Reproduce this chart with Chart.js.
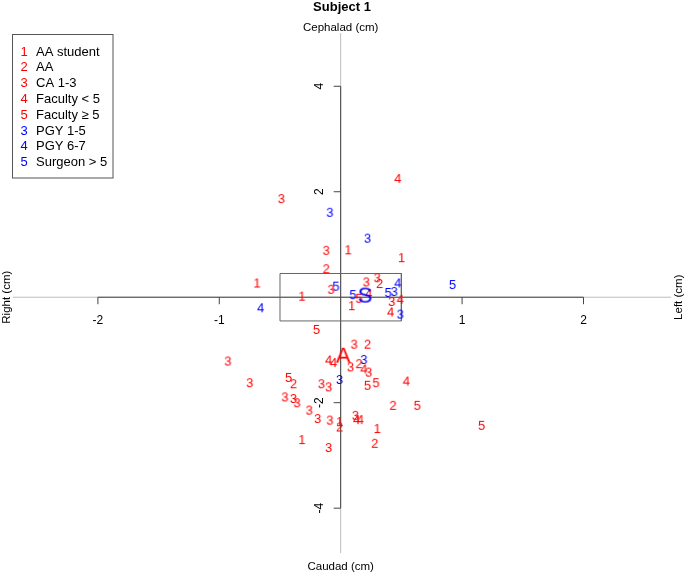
<!DOCTYPE html>
<html>
<head>
<meta charset="utf-8">
<title>Subject 1</title>
<script src="https://cdn.jsdelivr.net/npm/chart.js@4.4.1/dist/chart.umd.min.js"></script>
<style>
  body { margin: 0; background: #fff; }
  #chart-box { width: 685px; height: 575px; position: relative; }
</style>
</head>
<body>
<div id="chart-box"><canvas id="my-chart"></canvas></div>
<script>
'use strict';

// ******* DATA *******
let categories = ['AA student', 'AA', 'CA 1-3', 'Faculty < 5', 'Faculty \u2265 5', 'PGY 1-5', 'PGY 6-7', 'Surgeon > 5'];
let symbols = ['1', '2', '3', '4', '5', '3', '4', '5'];
let colors = ['#ff0000', '#ff0000', '#ff0000', '#ff0000', '#ff0000', '#0000ff', '#0000ff', '#0000ff'];

let aaStudentX = [0.06, 0.50, -0.69, -0.32, 0.09, -0.01, -0.32, 0.30];
let aaStudentY = [0.90, 0.75, 0.27, 0.02, -0.16, -2.36, -2.70, -2.49];

let aaX = [-0.12, 0.32, 0.22, 0.15, -0.39, -0.01, 0.43, 0.28];
let aaY = [0.54, 0.26, -0.89, -1.26, -1.64, -2.46, -2.05, -2.77];

let caX = [-0.49, -0.12, -0.08, 0.21, 0.30, 0.42, 0.11, 0.08, 0.23, -0.93, -0.75, -0.16, -0.10, -0.46, -0.39, -0.36, -0.26, -0.19, -0.09, 0.12, -0.10];
let caY = [1.87, 0.89, 0.15, 0.29, 0.37, -0.08, -0.89, -1.32, -1.42, -1.21, -1.62, -1.64, -1.70, -1.89, -1.92, -2.00, -2.14, -2.30, -2.33, -2.24, -2.85];

let facLowX = [0.47, 0.23, 0.49, 0.41, -0.10, -0.06, 0.19, 0.54, 0.13, 0.16];
let facLowY = [2.25, 0.07, -0.04, -0.28, -1.19, -1.24, -1.36, -1.59, -2.32, -2.32];

let facHighX = [0.15, -0.20, -0.43, 0.22, 0.29, 0.63, 1.16];
let facHighY = [-0.02, -0.61, -1.52, -1.67, -1.62, -2.05, -2.43];

let pgyLowX = [-0.09, 0.22, 0.44, 0.49, 0.19, -0.01];
let pgyLowY = [1.61, 1.12, 0.11, -0.32, -1.18, -1.56];

let pgyHighX = [-0.66, 0.47];
let pgyHighY = [-0.20, 0.27];

let surgeonX = [0.92, -0.04, 0.10, 0.39];
let surgeonY = [0.24, 0.21, 0.05, 0.09];

// mean markers
let surgeonMean = [0.20, 0.04];
let anesMean = [0.02, -1.10];

// box around surgeon spread
let boxX = [-0.5, 0.5, 0.5, -0.5, -0.5];
let boxY = [0.45, 0.45, -0.45, -0.45, 0.45];

let xTicks = [-2, -1, 1, 2];
let yTicks = [4, 2, -2, -4];

let seriesX = [aaStudentX, aaX, caX, facLowX, facHighX, pgyLowX, pgyHighX, surgeonX];
let seriesY = [aaStudentY, aaY, caY, facLowY, facHighY, pgyLowY, pgyHighY, surgeonY];

const FONT = '"Liberation Sans", Arial, sans-serif';

// ****** HELPER FUNCTIONS ******
function toPoints(xs, ys) {
  let pts = [];
  for (let i = 0; i < xs.length; i++) {
    pts.push({ x: xs[i], y: ys[i] });
  }
  return pts;
}

// text glyph used as point style, centred on the value
function makeGlyph(text, color, size) {
  let c = document.createElement('canvas');
  c.width = Math.ceil(size * 1.4);
  c.height = Math.ceil(size * 1.4);
  let g = c.getContext('2d');
  g.font = size + 'px ' + FONT;
  g.fillStyle = color;
  g.textAlign = 'center';
  g.textBaseline = 'alphabetic';
  g.fillText(text, c.width / 2, c.height / 2 + size * 0.36);
  return c;
}

// ****** DATASETS ******
let datasets = [];
for (let i = 0; i < categories.length; i++) {
  datasets.push({
    label: categories[i],
    data: toPoints(seriesX[i], seriesY[i]),
    pointStyle: makeGlyph(symbols[i], colors[i], 13),
    order: 1
  });
}
datasets.push({
  label: 'S',
  data: [{ x: surgeonMean[0], y: surgeonMean[1] }],
  pointStyle: makeGlyph('S', '#0000ff', 22),
  order: 0
});
datasets.push({
  label: 'A',
  data: [{ x: anesMean[0], y: anesMean[1] }],
  pointStyle: makeGlyph('A', '#ff0000', 22),
  order: 0
});
datasets.push({
  label: 'box',
  type: 'line',
  data: toPoints(boxX, boxY),
  showLine: true,
  borderColor: '#666',
  borderWidth: 1,
  pointRadius: 0,
  fill: false,
  order: 10
});

// ******** AXES / LABELS PLUGIN *******
let crossAxes = {
  id: 'crossAxes',
  beforeDatasetsDraw(chart) {
    let ctx = chart.ctx;
    let area = chart.chartArea;
    let xs = chart.scales.x;
    let ys = chart.scales.y;
    let x0 = xs.getPixelForValue(0);
    let y0 = ys.getPixelForValue(0);

    ctx.save();
    // light reference lines through origin
    ctx.strokeStyle = '#bdbdbd';
    ctx.lineWidth = 1;
    ctx.beginPath();
    ctx.moveTo(area.left, y0);
    ctx.lineTo(area.right, y0);
    ctx.moveTo(x0, area.top);
    ctx.lineTo(x0, area.bottom);
    ctx.stroke();

    // axis segments
    ctx.strokeStyle = '#444';
    ctx.beginPath();
    ctx.moveTo(xs.getPixelForValue(xTicks[0]), y0);
    ctx.lineTo(xs.getPixelForValue(xTicks[xTicks.length - 1]), y0);
    ctx.moveTo(x0, ys.getPixelForValue(yTicks[0]));
    ctx.lineTo(x0, ys.getPixelForValue(yTicks[yTicks.length - 1]));
    xTicks.forEach(function (t) {
      let px = xs.getPixelForValue(t);
      ctx.moveTo(px, y0);
      ctx.lineTo(px, y0 + 7);
    });
    yTicks.forEach(function (t) {
      let py = ys.getPixelForValue(t);
      ctx.moveTo(x0, py);
      ctx.lineTo(x0 - 7, py);
    });
    ctx.stroke();

    ctx.fillStyle = '#000';
    ctx.font = '12px ' + FONT;
    ctx.textAlign = 'center';
    ctx.textBaseline = 'middle';
    xTicks.forEach(function (t) {
      ctx.fillText(String(t), xs.getPixelForValue(t), y0 + 23);
    });
    yTicks.forEach(function (t) {
      ctx.save();
      ctx.translate(x0 - 21, ys.getPixelForValue(t));
      ctx.rotate(-Math.PI / 2);
      ctx.fillText(String(t), 0, 0);
      ctx.restore();
    });
    ctx.restore();
  },
  afterDraw(chart) {
    let ctx = chart.ctx;
    let xs = chart.scales.x;
    let ys = chart.scales.y;
    let x0 = xs.getPixelForValue(0);
    let y0 = ys.getPixelForValue(0);

    ctx.save();
    ctx.fillStyle = '#000';
    ctx.textAlign = 'center';
    ctx.textBaseline = 'middle';

    ctx.font = 'bold 13px ' + FONT;
    ctx.fillText('Subject 1', 342, 7);

    ctx.font = '11.5px ' + FONT;
    ctx.fillText('Cephalad (cm)', x0, 28);
    ctx.fillText('Caudad (cm)', x0, 567);

    ctx.save();
    ctx.translate(7, y0);
    ctx.rotate(-Math.PI / 2);
    ctx.fillText('Right (cm)', 0, 0);
    ctx.restore();

    ctx.save();
    ctx.translate(679, y0);
    ctx.rotate(-Math.PI / 2);
    ctx.fillText('Left (cm)', 0, 0);
    ctx.restore();

    // legend
    ctx.strokeStyle = '#555';
    ctx.lineWidth = 1;
    ctx.strokeRect(12.5, 34.5, 100.5, 143.5);
    ctx.font = '13px ' + FONT;
    ctx.textBaseline = 'middle';
    for (let i = 0; i < categories.length; i++) {
      let ly = 52 + i * 15.8;
      ctx.fillStyle = colors[i];
      ctx.textAlign = 'center';
      ctx.fillText(symbols[i], 24, ly);
      ctx.fillStyle = '#000';
      ctx.textAlign = 'left';
      ctx.fillText(categories[i], 36, ly);
    }
    ctx.restore();
  }
};

// ****** EXECUTABLE CODE ********
let canvasElem = document.getElementById('my-chart').getContext('2d');

new Chart(canvasElem, {
  type: 'scatter',
  data: { datasets: datasets },
  options: {
    responsive: true,
    maintainAspectRatio: false,
    animation: false,
    events: [],
    layout: { padding: { left: 12.9, right: 14.1, top: 33, bottom: 22 } },
    scales: {
      x: { type: 'linear', min: -2.7, max: 2.72, display: false },
      y: { type: 'linear', min: -4.85, max: 5.01, display: false }
    },
    plugins: {
      legend: { display: false },
      tooltip: { enabled: false }
    }
  },
  plugins: [crossAxes]
});
</script>
</body>
</html>
